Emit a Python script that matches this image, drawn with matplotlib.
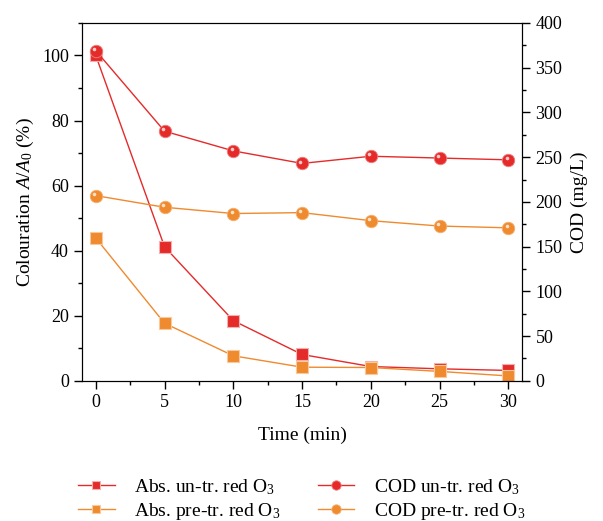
import matplotlib
matplotlib.use("Agg")
import matplotlib.pyplot as plt
from matplotlib.ticker import MultipleLocator
from matplotlib.transforms import offset_copy

plt.rcParams['font.family'] = ['Liberation Serif', 'DejaVu Serif']
plt.rcParams['mathtext.fontset'] = 'custom'
plt.rcParams['mathtext.rm'] = 'Liberation Serif'
plt.rcParams['mathtext.it'] = 'Liberation Serif:italic'
plt.rcParams['font.size'] = 13

time = [0, 5, 10, 15, 20, 25, 30]
abs_untr = [100, 41.2, 18.5, 8.1, 4.4, 3.7, 3.2]
abs_pretr = [43.9, 17.7, 7.7, 4.2, 4.1, 2.9, 1.5]
cod_untr = [369, 279, 257, 243, 251, 249, 247]
cod_pretr = [207, 194, 187, 188, 179, 173, 171]

red = '#e52a2a'
orange = '#ef8a2e'

fig = plt.figure(figsize=(6.03, 5.21), dpi=100)
ax = fig.add_axes([0.136, 0.269, 0.730, 0.687])
ax2 = ax.twinx()

l1, = ax.plot(time, abs_untr, '-s', color=red, lw=1, ms=8, mec='#f3b0b0', mew=0.8,
              label='Abs. un-tr. red O$_3$')
l2, = ax.plot(time, abs_pretr, '-s', color=orange, lw=1, ms=8, mec='#f8c99c', mew=0.8,
              label='Abs. pre-tr. red O$_3$')
l3, = ax2.plot(time, cod_untr, '-o', color=red, lw=1, ms=9, mec='#f08080', mew=0.6,
               label='COD un-tr. red O$_3$')
l4, = ax2.plot(time, cod_pretr, '-o', color=orange, lw=1, ms=9, mec='#f6b070', mew=0.6,
               label='COD pre-tr. red O$_3$')
# glossy spot on the balls
shine = offset_copy(ax2.transData, fig=fig, x=-1.3, y=1.3, units='points')
ax2.plot(time, cod_untr, 'o', color='white', ms=2.6, mew=0, alpha=0.75, transform=shine)
ax2.plot(time, cod_pretr, 'o', color='white', ms=2.6, mew=0, alpha=0.75, transform=shine)

ax.set_xlim(-1, 31)
ax.set_ylim(0, 110)
ax2.set_ylim(0, 400)

ax.xaxis.set_major_locator(MultipleLocator(5))
ax.xaxis.set_minor_locator(MultipleLocator(2.5))
ax.yaxis.set_major_locator(MultipleLocator(20))
ax.yaxis.set_minor_locator(MultipleLocator(10))
ax2.yaxis.set_major_locator(MultipleLocator(50))
ax2.yaxis.set_minor_locator(MultipleLocator(25))

for a in (ax, ax2):
    a.tick_params(which='major', direction='out', length=6, width=1, labelsize=13)
    a.tick_params(which='minor', direction='out', length=3, width=1)
ax.tick_params(top=False, which='both')

ax.set_xlabel('Time (min)', fontsize=14, labelpad=11)
ax.set_ylabel('Colouration $A/A_0$ (%)', fontsize=14)
ax2.set_ylabel('COD (mg/L)', fontsize=14, labelpad=6)

fig.legend(handles=[l1, l2, l3, l4], loc='lower center', ncol=2, frameon=False,
           bbox_to_anchor=(0.5, -0.035), fontsize=14, handlelength=1.9,
           handletextpad=1.0, columnspacing=1.9, labelspacing=0.2, markerscale=0.75)

fig.savefig('out.png', dpi=100)
